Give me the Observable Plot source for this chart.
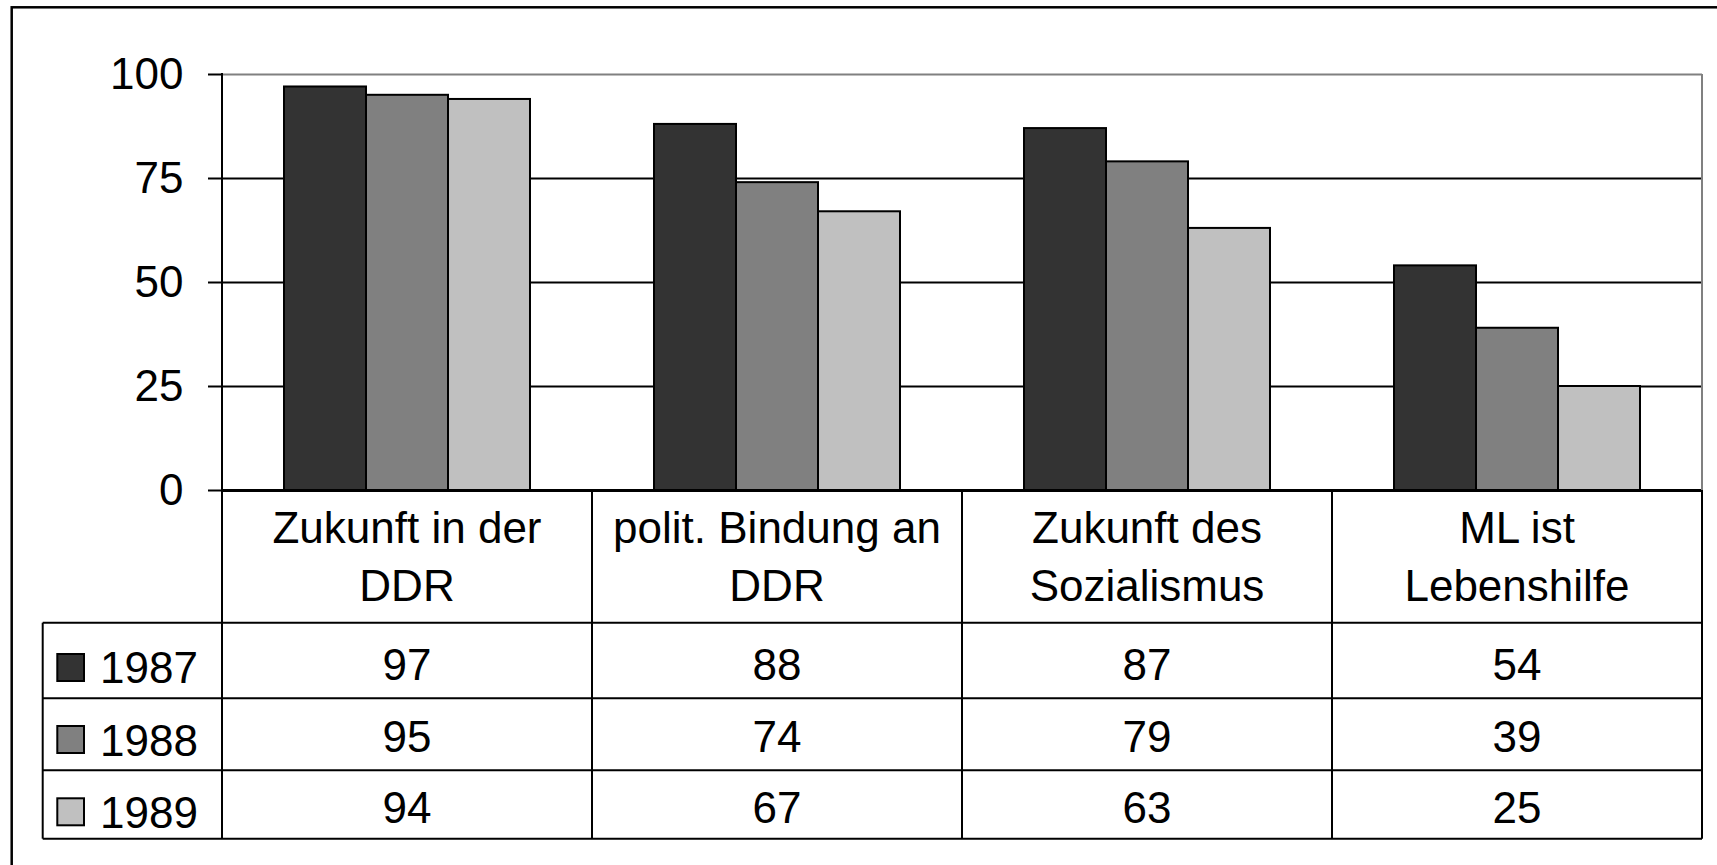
<!DOCTYPE html>
<html>
<head>
<meta charset="utf-8">
<script src="https://cdn.jsdelivr.net/npm/d3@7"></script>
<script src="https://cdn.jsdelivr.net/npm/@observablehq/plot@0.6"></script>
<style>
  html, body { margin: 0; padding: 0; background: #fff; }
  #chart svg { display: block; }
  [aria-label="y-axis tick"] { stroke-width: 2px; }
  .tick line { stroke-width: 2px; }
</style>
</head>
<body>
<div id="chart"></div>
<script>
// ---- data ----
const categories = ["Zukunft in der DDR", "polit. Bindung an DDR", "Zukunft des Sozialismus", "ML ist Lebenshilfe"];
const categoryLines = [["Zukunft in der", "DDR"], ["polit. Bindung an", "DDR"], ["Zukunft des", "Sozialismus"], ["ML ist", "Lebenshilfe"]];
const years = ["1987", "1988", "1989"];
const values1987 = [97, 88, 87, 54];
const values1988 = [95, 74, 79, 39];
const values1989 = [94, 67, 63, 25];
const yTicks = [0, 25, 50, 75, 100];
const gridValues = [25, 50, 75];
const colors = ["#333333", "#808080", "#c0c0c0"];

const series = [values1987, values1988, values1989];
const data = [];
categories.forEach((c, i) => years.forEach((yr, j) => data.push({category: c, year: yr, value: series[j][i]})));

const FONT = "'Liberation Sans', Arial, Helvetica, sans-serif";

const chart = Plot.plot({
  width: 1717,
  height: 865,
  marginLeft: 221,
  marginRight: 14,
  marginTop: 74,
  marginBottom: 375,
  style: {fontFamily: FONT, fontSize: "44px", color: "#000", background: "#fff", overflow: "visible"},
  fx: {domain: categories, padding: 0, axis: null},
  x: {domain: years, paddingInner: 0, paddingOuter: 0.736, axis: null},
  y: {domain: [0, 100], ticks: yTicks, tickSize: 14, tickPadding: 25, label: null, tickFormat: d => String(d)},
  color: {domain: years, range: colors},
  marks: [
    Plot.ruleY(gridValues, {stroke: "#000", strokeWidth: 2}),
    Plot.ruleY([100], {stroke: "#808080", strokeWidth: 2}),
    Plot.barY(data, {fx: "category", x: "year", y: "value", fill: "year", stroke: "#000", strokeWidth: 2}),
    Plot.ruleY([0], {stroke: "#000", strokeWidth: 3})
  ]
});
document.getElementById("chart").appendChild(chart);

// ---- data table below the chart, laid out with the plot's own scales ----
const fx = chart.scale("fx");
const ys = chart.scale("y");
const svg = d3.select(chart);
const lefts = categories.map(c => fx.apply(c));
const bw = fx.bandwidth;
const plotLeft = lefts[0];
const plotRight = lefts[lefts.length - 1] + bw;
const top0 = ys.apply(0);
const top100 = ys.apply(100);

// table row boundaries (pixel layout of the table)
const headerBottom = top0 + 132.7;
const rowBottoms = [698.3, 770.3, 838.7];
const legendLeft = 42.7;

const g = svg.append("g").attr("fill", "none").attr("stroke", "#000").attr("stroke-width", 2);
// right grey frame edge of plot area
g.append("line").attr("x1", plotRight).attr("x2", plotRight).attr("y1", top100).attr("y2", top0).attr("stroke", "#808080");
// y axis line through the table
g.append("line").attr("x1", plotLeft).attr("x2", plotLeft).attr("y1", top100 - 1).attr("y2", rowBottoms[2]);
// column dividers
lefts.slice(1).concat([plotRight]).forEach(x => {
  g.append("line").attr("x1", x).attr("x2", x).attr("y1", top0).attr("y2", rowBottoms[2]);
});
// legend column left border
g.append("line").attr("x1", legendLeft).attr("x2", legendLeft).attr("y1", headerBottom).attr("y2", rowBottoms[2]);
// horizontal lines
[headerBottom].concat(rowBottoms).forEach(yv => {
  g.append("line").attr("x1", legendLeft).attr("x2", plotRight).attr("y1", yv).attr("y2", yv);
});

const t = svg.append("g").attr("fill", "#000").attr("font-family", FONT).attr("font-size", 44);
// header labels
categoryLines.forEach((lines, i) => {
  const cx = lefts[i] + bw / 2;
  t.append("text").attr("x", cx).attr("y", 543.3).attr("text-anchor", "middle").text(lines[0]);
  t.append("text").attr("x", cx).attr("y", 600.7).attr("text-anchor", "middle").text(lines[1]);
});
// value rows
const valueBaselines = [680, 751.7, 823.3];
const legendBaselines = [683.3, 756, 827.7];
const swatchTops = [654, 726, 798.3];
years.forEach((yr, j) => {
  categories.forEach((c, i) => {
    t.append("text").attr("x", lefts[i] + bw / 2).attr("y", valueBaselines[j]).attr("text-anchor", "middle").text(series[j][i]);
  });
  svg.append("rect").attr("x", 57.3).attr("y", swatchTops[j]).attr("width", 26.7).attr("height", 27)
    .attr("fill", colors[j]).attr("stroke", "#000").attr("stroke-width", 2);
  t.append("text").attr("x", 100).attr("y", legendBaselines[j]).attr("text-anchor", "start").text(yr);
});

// outer chart border (runs past the right and bottom edges as in the original crop)
svg.append("rect").attr("x", 11.7).attr("y", 7.3).attr("width", 1760).attr("height", 900)
  .attr("fill", "none").attr("stroke", "#000").attr("stroke-width", 2.5);
</script>
</body>
</html>
